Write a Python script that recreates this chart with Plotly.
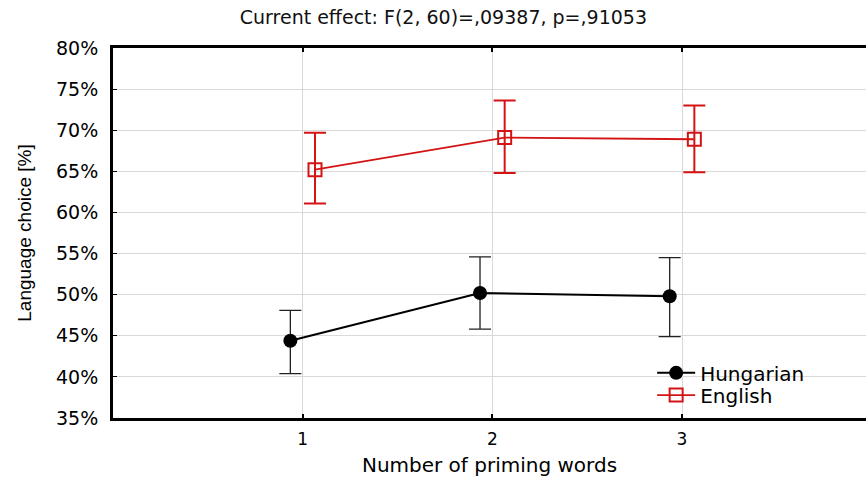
import numpy as np
import plotly.graph_objects as go

# ---- data ----
priming_words = [1, 2, 3]
hungarian_mean = [44.4, 50.2, 49.8]
hungarian_upper = [48.1, 54.6, 54.5]
hungarian_lower = [40.4, 45.8, 44.9]
english_mean = [65.2, 69.1, 68.9]
english_upper = [69.7, 73.6, 73.0]
english_lower = [61.1, 64.8, 64.9]
y_ticks = [35, 40, 45, 50, 55, 60, 65, 70, 75, 80]
y_tick_labels = [f"{v}%" for v in y_ticks]

FONT = "DejaVu Sans"
RED = "#d41414"

xw = np.array(priming_words, dtype=float)
offset = 0.065

hm, hu, hl = map(np.array, (hungarian_mean, hungarian_upper, hungarian_lower))
em, eu, el = map(np.array, (english_mean, english_upper, english_lower))

fig = go.Figure()
fig.add_trace(go.Scatter(
    x=xw - offset, y=hm, name="Hungarian", mode="lines+markers", legend="legend",
    line=dict(color="black", width=2),
    marker=dict(symbol="circle", size=14, color="black"),
    error_y=dict(type="data", symmetric=False, array=hu - hm, arrayminus=hm - hl,
                 color="#222222", thickness=1.3, width=11),
))
fig.add_trace(go.Scatter(
    x=xw + offset, y=em, name="English", mode="lines+markers", legend="legend2",
    line=dict(color=RED, width=1.8),
    marker=dict(symbol="square-open", size=13, color=RED, line=dict(width=2, color=RED)),
    error_y=dict(type="data", symmetric=False, array=eu - em, arrayminus=em - el,
                 color=RED, thickness=2, width=11),
))

legend_common = dict(xanchor="left", yanchor="middle", bgcolor="rgba(0,0,0,0)",
                     font=dict(family=FONT, size=20, color="black"), itemwidth=38)

fig.update_layout(
    width=866, height=479,
    margin=dict(l=113, r=0, t=48, b=61),
    paper_bgcolor="white", plot_bgcolor="white",
    font=dict(family=FONT, color="black", size=16),
    title=dict(text="Current effect: F(2, 60)=,09387, p=,91053",
               x=0.512, xanchor="center", xref="container",
               y=0.964, yanchor="middle", yref="container",
               font=dict(family=FONT, size=19, color="#111111")),
    legend=dict(x=0.716, y=0.122, **legend_common),
    legend2=dict(x=0.716, y=0.062, **legend_common),
    showlegend=True,
)
fig.update_xaxes(
    range=[0, 3.97], tickvals=priming_words, ticktext=[str(v) for v in priming_words],
    showgrid=True, gridcolor="#d9d9d9", gridwidth=1, zeroline=False,
    showline=True, linecolor="black", linewidth=3, mirror="ticks",
    ticks="inside", ticklen=4, tickwidth=2, tickcolor="black",
    ticklabelstandoff=4,
    tickfont=dict(family=FONT, size=17, color="black"),
    title=dict(text="Number of priming words", standoff=10,
               font=dict(family=FONT, size=20, color="black")),
)
fig.update_yaxes(
    range=[35, 80], tickvals=y_ticks, ticktext=y_tick_labels,
    showgrid=True, gridcolor="#d9d9d9", gridwidth=1, zeroline=False,
    showline=True, linecolor="black", linewidth=3, mirror=False,
    ticks="inside", ticklen=4, tickwidth=1, tickcolor="black",
    ticklabelstandoff=8,
    tickfont=dict(family=FONT, size=19, color="black"),
    title=dict(text="Language choice [%]", standoff=20,
               font=dict(family="Liberation Sans", size=19, color="black")),
)

fig.write_html("out.html")
